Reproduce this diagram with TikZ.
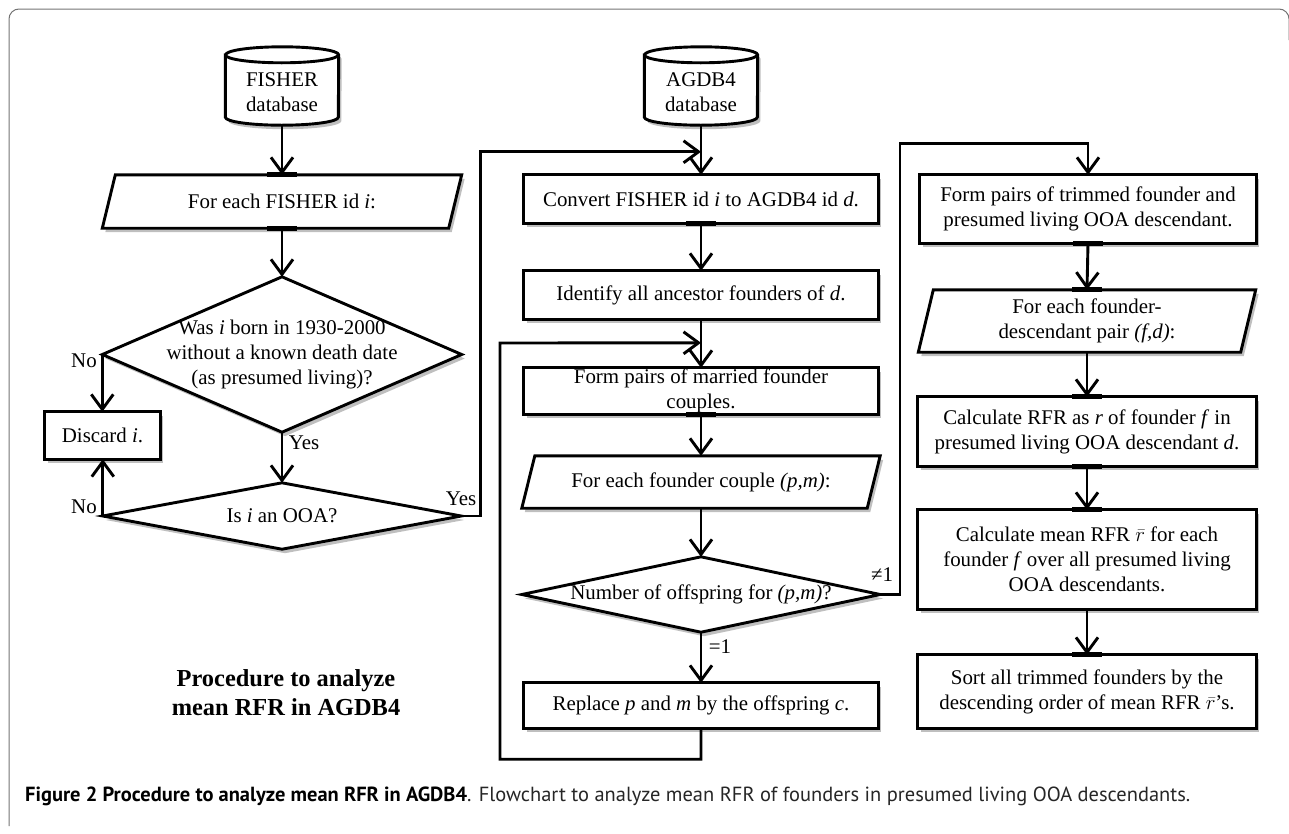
\documentclass[tikz,border=0pt]{standalone}
\usepackage{fontspec}
\setmainfont{Liberation Serif}
\newfontfamily\capfont{PT Sans}
\usetikzlibrary{arrows.meta,shadows,backgrounds}

\newcommand\cylo[1]{%
  \draw[outl] ([yshift=-8pt]#1.north west) -- ([yshift=8pt]#1.south west)
     arc[start angle=180, end angle=360, x radius=56.5pt, y radius=8pt]
     -- ([yshift=-8pt]#1.north east)
     arc[start angle=0, end angle=180, x radius=56.5pt, y radius=8pt] -- cycle;
  \draw[lw] ([yshift=-8pt]#1.north west)
     arc[start angle=180, end angle=360, x radius=56.5pt, y radius=8pt];}
\newcommand\parao[2]{%
  \draw[outl] ([xshift=#2]#1.north west) -- (#1.north east)
     -- ([xshift=-#2]#1.south east) -- (#1.south west) -- cycle;}
\newcommand\diao[1]{%
  \draw[outl] (#1.north) -- (#1.east) -- (#1.south) -- (#1.west) -- cycle;}
\newcommand\recto[1]{%
  \draw[outl] (#1.north west) rectangle (#1.south east);}
\newcommand\cmark[1]{%
  \draw[line width=4.8pt] ([xshift=-15pt]#1) -- ([xshift=15pt]#1);}

\begin{document}
\begin{tikzpicture}[x=1pt,y=-1pt,
  lw/.style={line width=2.9pt},
  txt/.style={font=\fontsize{20.9}{25}\selectfont},
  box/.style={txt, inner sep=0pt, align=center},
  outl/.style={draw=black, lw, fill=white, line join=miter,
     drop shadow={shadow xshift=3pt, shadow yshift=-4pt, opacity=0.25, fill=black}},
  arr/.style={lw, -{Straight Barb[length=15pt,width=22pt]}},
  lab/.style={txt, inner sep=0pt},
  ]
\useasboundingbox (0,0) rectangle (1289,833);

% ---------- nodes, column 1
\node[box, minimum width=113pt, minimum height=78pt] (fisher) at (282,86) {};
\node[box] (fishertxt) at (282,92) {FISHER\\database};
\node[box, minimum width=359pt, minimum height=53pt] (for1) at (282,201.5)
   {For each FISHER id \textit{i}:};
\node[box, minimum width=359pt, minimum height=155pt] (dia1) at (282,354.5)
   {Was \textit{i} born in 1930-2000\\without a known death date\\(as presumed living)?};
\node[box, minimum width=115pt, minimum height=47pt] (discard) at (102.5,435.5)
   {Discard \textit{i}.};
\node[box, minimum width=358pt, minimum height=66pt] (dia2) at (282,516)
   {Is \textit{i} an OOA?};

% ---------- column 2
\node[box, minimum width=113pt, minimum height=78pt] (agdb) at (701,86) {};
\node[box] (agdbtxt) at (701,92) {AGDB4\\database};
\node[box, minimum width=354pt, minimum height=48pt] (convert) at (701,199)
   {Convert FISHER id \textit{i} to AGDB4 id \textit{d}.};
\node[box, minimum width=354pt, minimum height=48pt] (identify) at (701,295)
   {Identify all ancestor founders of \textit{d}.};
\node[box, minimum width=354pt, minimum height=46pt] (married) at (701,391)
   {Form pairs of married founder\\couples.};
\node[box, minimum width=358pt, minimum height=52pt] (for2) at (701,482)
   {For each founder couple \textit{(p,m)}:};
\node[box, minimum width=358pt, minimum height=75pt] (dia3) at (701,594.5)
   {Number of offspring for \textit{(p,m)}?};
\node[box, minimum width=354pt, minimum height=45pt] (replace) at (701,705.5)
   {Replace \textit{p} and \textit{m} by the offspring \textit{c}.};

% ---------- column 3
\node[box, minimum width=336pt, minimum height=68pt] (trimmed) at (1088,209)
   {Form pairs of trimmed founder and\\presumed living OOA descendant.};
\node[box, minimum width=337pt, minimum height=62pt] (for3) at (1087,321)
   {For each founder-\\descendant pair \textit{(f,d)}:};
\node[box, minimum width=338pt, minimum height=69pt] (rfr) at (1087,431.5)
   {Calculate RFR as \textit{r} of founder \textit{f} in\\presumed living OOA descendant \textit{d}.};
\node[box, minimum width=338pt, minimum height=99pt] (mean) at (1087,559.5)
   {Calculate mean RFR $\bar{r}$ for each\\founder \textit{f} over all presumed living\\OOA descendants.};
\node[box, minimum width=338pt, minimum height=73pt] (sort) at (1087,691.5)
   {Sort all trimmed founders by the\\descending order of mean RFR $\bar{r}$’s.};

% ---------- title and caption
\node[align=center, inner sep=0pt, font=\bfseries\fontsize{24.4}{29}\selectfont]
   (title) at (286,693) {Procedure to analyze\\mean RFR in AGDB4};
\node[anchor=west, inner sep=0pt] (cap) at (25,796)
   {\resizebox{1165pt}{!}{\capfont\fontsize{19}{22}\selectfont
    \textbf{Figure 2 Procedure to analyze mean RFR in AGDB4}\textcolor{black!85}{. Flowchart to analyze mean RFR of founders in presumed living OOA descendants.}}};

% ---------- outlines on background
\begin{scope}[on background layer]
  \draw[black!55, line width=1pt, rounded corners=10pt]
     (9,826) -- (9,9) -- (1289,9) -- (1289,40);
  \cylo{fisher} \cylo{agdb}
  \parao{for1}{13pt} \parao{for2}{13pt} \parao{for3}{15pt}
  \diao{dia1} \diao{dia2} \diao{dia3}
  \recto{discard} \recto{convert} \recto{identify} \recto{married}
  \recto{replace} \recto{trimmed} \recto{rfr} \recto{mean} \recto{sort}
\end{scope}

% ---------- connectors
\draw[arr] (fisher.south) -- (for1.north);
\draw[arr] (for1.south) -- (dia1.north);
\draw[arr] (dia1.west) -- (dia1.west |- discard.north);
\draw[arr] (dia1.south) -- (dia2.north);
\draw[arr] (dia2.west) -- (dia2.west |- discard.south);
\draw[arr] (dia2.east) -- ++(19,0) |- ([yshift=23pt]convert.north);
\draw[arr] (agdb.south) -- (convert.north);
\draw[arr] (convert.south) -- (identify.north);
\draw[arr] (identify.south) -- (married.north);
\draw[arr] (married.south) -- (for2.north);
\draw[arr] (for2.south) -- (dia3.north);
\draw[arr] (dia3.south) -- (replace.north);
\draw[arr] (replace.south) -- ++(0,31) -| (500,343) -- ([yshift=25pt]married.north);
\draw[arr] (dia3.east) -- (900,594.5) |- ([yshift=31pt]trimmed.north) -- (trimmed.north);
\draw[arr] (trimmed.south) -- (for3.north);
\draw[arr] (for3.south) -- (rfr.north);
\draw[arr] (rfr.south) -- (mean.north);
\draw[arr] (mean.south) -- (sort.north);

% connection marks
\cmark{for1.north} \cmark{for1.south} \cmark{convert.south} \cmark{married.south}
\cmark{trimmed.south} \cmark{for3.north} \cmark{rfr.north} \cmark{rfr.south}
\cmark{mean.north} \cmark{sort.north}

% ---------- labels
\node[lab] (no1) at (84,361) {No};
\node[lab] (no2) at (84,507) {No};
\node[lab] (yes1) at (304,443) {Yes};
\node[lab] (yes2) at (461,499) {Yes};
\node[lab] (eq1) at (720,647) {=1};
\node[lab] (ne1) at (882,575) {≠1};
\end{tikzpicture}
\end{document}
